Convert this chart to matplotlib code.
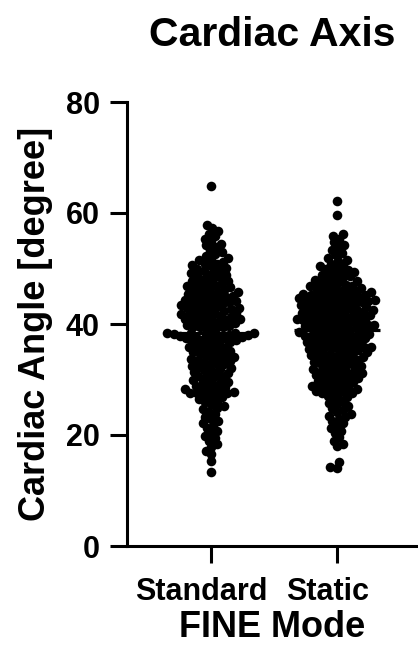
import numpy as np
import matplotlib
matplotlib.use("Agg")
from matplotlib import pyplot as plt
from matplotlib.transforms import ScaledTranslation

plt.rcParams["font.family"] = ["Liberation Sans", "DejaVu Sans"]
plt.rcParams["font.weight"] = "bold"

# group names on the x axis
groups = ["Standard", "Static"]

# cardiac angle per fetus (degrees)
standard_angles = [
    13.3, 15.4, 16.6, 17.2, 17.8, 18.3, 18.9, 19.4, 19.8,
    20.3, 20.8, 21.2, 21.7, 22.1, 22.5, 22.9, 23.3, 23.8,
    24.2, 24.6, 24.9, 25.2, 25.6, 25.9, 26.1, 26.4, 26.7, 26.9,
    27.2, 27.4, 27.5, 27.5, 27.6, 27.7, 27.9,
    28.1, 28.3, 28.5, 28.6, 28.8, 28.9,
    29.2, 29.4, 29.6, 29.8, 29.9,
    30.1, 30.4, 30.6, 30.8, 30.9,
    31.1, 31.4, 31.6, 31.8, 31.9,
    32.1, 32.3, 32.5, 32.7, 32.8, 32.9,
    33.1, 33.3, 33.5, 33.7, 33.8, 33.9,
    34.1, 34.3, 34.5, 34.7, 34.8, 34.9,
    35.1, 35.3, 35.5, 35.7, 35.8, 35.9,
    36.1, 36.3, 36.5, 36.7, 36.8, 36.9,
    37.1, 37.2, 37.3, 37.4, 37.5, 37.6, 37.7, 37.8, 37.9, 37.9,
    38.0, 38.1, 38.2, 38.3, 38.3, 38.4, 38.4, 38.5,
    39.1, 39.3, 39.4, 39.5, 39.6, 39.7, 39.8, 39.9,
    40.1, 40.3, 40.4, 40.6, 40.7, 40.8, 40.9, 40.9,
    41.1, 41.2, 41.4, 41.5, 41.7, 41.8, 41.9, 41.9,
    42.1, 42.2, 42.4, 42.5, 42.7, 42.8, 42.9, 42.9,
    43.1, 43.2, 43.4, 43.5, 43.7, 43.8, 43.9, 43.9,
    44.1, 44.2, 44.4, 44.5, 44.7, 44.8, 44.9, 44.9,
    45.1, 45.3, 45.4, 45.6, 45.7, 45.8, 45.9,
    46.1, 46.3, 46.4, 46.6, 46.7, 46.8, 46.9,
    47.1, 47.3, 47.5, 47.7, 47.8, 47.9,
    48.1, 48.4, 48.6, 48.8, 48.9,
    49.1, 49.4, 49.6, 49.8, 49.9,
    50.1, 50.4, 50.6, 50.8, 50.9,
    51.2, 51.5, 51.7, 51.9, 52.3, 52.6, 52.9,
    53.3, 53.8, 54.2, 54.5, 54.9,
    55.4, 55.8, 56.3, 56.8, 57.3, 57.9, 64.8,
]

static_angles = [
    14.1, 14.3, 15.2, 18.0, 18.3, 19.0, 19.6,
    20.4, 20.8, 21.3, 21.8, 22.1, 22.5, 22.9, 23.2, 23.5, 23.8,
    24.1, 24.5, 24.8, 25.2, 25.5, 25.8, 26.2, 26.5, 26.8,
    27.1, 27.3, 27.5, 27.6, 27.8, 27.9,
    28.0, 28.2, 28.4, 28.5, 28.7, 28.8, 28.9,
    29.1, 29.3, 29.5, 29.6, 29.8, 29.9,
    30.1, 30.2, 30.4, 30.5, 30.7, 30.8, 30.9,
    31.1, 31.2, 31.4, 31.5, 31.7, 31.8, 31.9,
    32.1, 32.2, 32.4, 32.5, 32.7, 32.8, 32.9,
    33.1, 33.2, 33.4, 33.5, 33.7, 33.8, 33.9,
    34.0, 34.1, 34.3, 34.4, 34.6, 34.7, 34.8, 34.9,
    35.0, 35.2, 35.3, 35.4, 35.5, 35.6, 35.7, 35.8, 35.9,
    36.0, 36.2, 36.3, 36.4, 36.5, 36.6, 36.7, 36.8, 36.9,
    37.0, 37.2, 37.3, 37.4, 37.5, 37.6, 37.7, 37.8, 37.9,
    38.0, 38.1, 38.2, 38.2, 38.3, 38.4, 38.5, 38.6, 38.8, 38.9,
    39.0, 39.1, 39.2, 39.3, 39.4, 39.5, 39.6, 39.7, 39.8, 39.9, 39.9,
    40.0, 40.1, 40.2, 40.3, 40.4, 40.5, 40.6, 40.7, 40.8, 40.9, 40.9,
    41.0, 41.1, 41.2, 41.3, 41.4, 41.5, 41.6, 41.7, 41.8, 41.9, 41.9,
    42.0, 42.1, 42.2, 42.4, 42.5, 42.6, 42.7, 42.8, 42.9, 42.9,
    43.0, 43.1, 43.2, 43.4, 43.5, 43.6, 43.7, 43.8, 43.9, 43.9,
    44.0, 44.1, 44.2, 44.3, 44.4, 44.5, 44.6, 44.7, 44.8, 44.9, 44.9,
    45.0, 45.1, 45.2, 45.3, 45.4, 45.6, 45.7, 45.8, 45.9, 45.9,
    46.1, 46.2, 46.4, 46.5, 46.7, 46.8, 46.9, 46.9,
    47.1, 47.3, 47.5, 47.7, 47.8, 47.9,
    48.2, 48.4, 48.6, 48.8, 48.9,
    49.2, 49.4, 49.6, 49.8, 49.9,
    50.2, 50.5, 50.7, 50.9, 51.3, 51.6, 51.9, 52.4, 52.8, 53.3, 53.8,
    54.2, 54.7, 55.4, 55.9, 56.3, 59.6, 62.1,
]

title = "Cardiac Axis"
x_label = "FINE Mode"
y_label = "Cardiac Angle [degree]"
y_ticks = [0, 20, 40, 60, 80]


def swarm_offsets(y_px, min_dist):
    # greedy beeswarm in pixel space, points placed from low to high value,
    # the preferred side alternates so the cloud stays centred
    order = np.argsort(y_px, kind="stable")
    steps = np.arange(0, 120, 0.5)
    cand_r = np.ravel(np.column_stack([steps, -steps]))
    cand_l = -cand_r
    px, py = [], []
    offsets = np.zeros(len(y_px))
    for n, idx in enumerate(order):
        y = y_px[idx]
        x = 0.0
        if px:
            ax_ = np.array(px)
            ay_ = np.array(py)
            near = np.abs(ay_ - y) < min_dist
            if near.any():
                cand = cand_r if n % 2 == 0 else cand_l
                dx = cand[:, None] - ax_[near][None, :]
                dy = (y - ay_[near])[None, :]
                ok = np.all(dx ** 2 + dy ** 2 >= min_dist ** 2, axis=1)
                x = cand[np.argmax(ok)]
        px.append(x)
        py.append(y)
        offsets[idx] = x
    return offsets


fig = plt.figure(figsize=(4.18, 6.55), dpi=100)
ax = fig.add_axes([127 / 418, 109 / 655, 291 / 418, 444 / 655])
ax.set_xlim(-0.667, 1.643)
ax.set_ylim(0, 80)

# pixel scale of the axes, used for the swarm layout
x_px = ax.transData.transform((1, 0))[0] - ax.transData.transform((0, 0))[0]
y_px = ax.transData.transform((0, 1))[1] - ax.transData.transform((0, 0))[1]

for i, vals in enumerate([standard_angles, static_angles]):
    vals = np.asarray(vals)
    offs = swarm_offsets(vals * y_px, 6.3)
    ax.scatter(i + offs / x_px, vals, s=48, color="black", linewidths=0, zorder=2)
    med = np.median(vals)
    ax.plot([i - 0.34, i + 0.34], [med, med], color="black", lw=2.3,
            solid_capstyle="butt", zorder=3)

ax.spines["top"].set_visible(False)
ax.spines["right"].set_visible(False)
ax.spines["left"].set_linewidth(2.2)
ax.spines["bottom"].set_linewidth(2.2)

ax.set_yticks(y_ticks)
ax.set_xticks(range(len(groups)))
ax.set_xticklabels(groups)
ax.tick_params(axis="both", width=2.2, length=12.5, labelsize=22)
ax.tick_params(axis="y", pad=7)
ax.tick_params(axis="x", pad=10)

# category labels sit a little left of their ticks in the original
shift = ScaledTranslation(-7 / 72, 0, fig.dpi_scale_trans)
for lab in ax.get_xticklabels():
    lab.set_transform(lab.get_transform() + shift)

ax.set_title(title, fontsize=29.5, fontweight="bold", pad=40)
ax.set_xlabel(x_label, fontsize=26, fontweight="bold", labelpad=2)
ax.set_ylabel(y_label, fontsize=26, fontweight="bold")
ax.yaxis.set_label_coords(-0.255, 0.5)

fig.savefig("out.png", dpi=100)
